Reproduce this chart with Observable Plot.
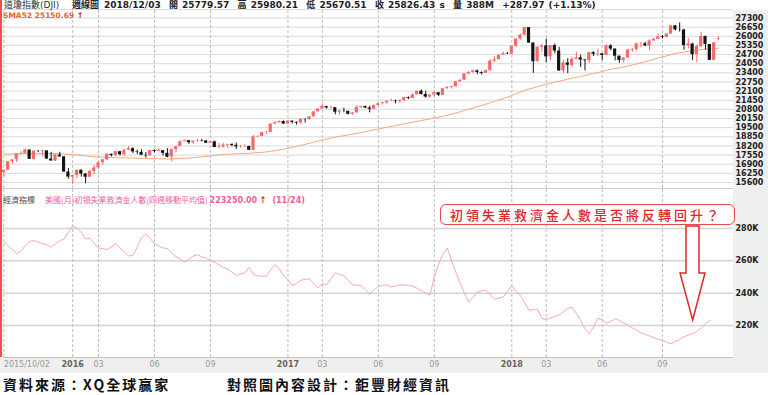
<!DOCTYPE html>
<html><head><meta charset="utf-8">
<script src="https://cdn.jsdelivr.net/npm/d3@7"></script>
<script src="https://cdn.jsdelivr.net/npm/@observablehq/plot@0.6"></script>
<style>
body{margin:0;background:#fff;}
#wrap{position:relative;width:768px;height:395px;overflow:hidden;background:#fff;font-family:"DejaVu Sans",sans-serif;}
.abs{position:absolute;white-space:nowrap;}
#wrap svg{position:absolute;left:0;background:transparent;}
</style></head><body><div id="wrap"></div>
<script>
// ===== DATA =====
// weekly bars, index 0 = 2015/10/02 ... index 166 = 2018/12/03
const open = [16312,16472,17084,17216,17646,17664,17910,17245,17824,17798,17848,17265,17128,17553,
17425,16347,15988,16094,16466,16205,15974,16392,16640,17007,17213,17602,17516,17793,17577,17898,18004,17774,17741,17535,17501,17873,17807,17865,17675,17400,17949,18147,18516,18571,18432,18543,18577,18552,18395,18492,18085,18124,18262,18308,18240,18138,18145,18161,17888,18847,18868,19152,19171,19757,19843,19934,
19763,19964,19886,19827,20094,20071,20269,20624,20822,21006,20903,20915,20597,20663,20656,20453,20548,20941,21007,20897,20805,21080,21206,21272,21384,21395,21350,21414,21638,21580,21830,22093,21858,21675,21814,21988,21798,22268,22350,22405,22774,22872,23329,23434,23539,23422,23358,23558,24232,24329,24652,24754,
24719,25296,25803,26072,26617,25521,24190,25219,25310,24538,25336,24946,23533,24103,23933,24360,24463,24311,24263,24831,24715,24753,24635,25317,25090,24581,24271,24456,25019,25058,25451,25463,25313,25669,25790,25965,25917,26155,26743,26458,26447,25340,25444,24688,25271,25989,25413,24286,25779.57];
const high = [16472,17102,17224,17647,17799,17978,17910,17860,17838,17898,17848,17750,17604,17750,
17425,16593,16141,16510,16510,16205,16475,16795,17063,17241,17631,17622,17793,17793,17926,18167,18078,17900,17934,17731,17891,17930,18003,17865,18011,17951,18147,18537,18622,18591,18543,18668,18668,18598,18520,18548,18363,18367,18308,18339,18399,18242,18285,18191,18934,18934,19152,19225,19757,19953,19987,19981,
19999,19974,19891,20126,20125,20298,20639,20840,21169,21006,21000,20915,20756,20887,20684,20593,21070,21007,21033,21012,21112,21225,21305,21392,21535,21457,21479,21681,21681,21929,22093,22179,22084,21871,22016,21988,22275,22419,22405,22778,22905,23329,23485,23602,23602,23470,23602,24327,24534,24669,24876,24838,
25299,25804,26153,26617,26617,25521,25250,25432,25800,25336,25450,25208,24304,24403,24518,24858,24660,24358,24866,24902,25086,24770,25402,25402,25090,24600,24460,25052,25134,25527,25555,25565,25746,25854,26168,26057,26200,26743,26769,26951,26500,25849,25500,25380,26277,26000,25413,25538,25980.21];
const low = [16013,16472,16917,17016,17564,17656,17245,17210,17721,17421,17265,17128,17100,17400,
16314,15842,15450,15881,15982,15503,15974,16165,16545,16821,17170,17416,17434,17485,17470,17855,17651,17577,17535,17332,17492,17703,17807,17495,17356,17063,17713,18147,18485,18320,18296,18460,18478,18356,18390,18085,17992,18052,18030,18133,17960,18036,18090,17884,17888,18792,18868,19025,19171,19731,19843,19718,
19700,19749,19677,19732,19831,20025,20269,20623,20812,20821,20791,20412,20413,20554,20401,20379,20548,20855,20848,20553,20805,21017,21110,21154,21345,21197,21245,21374,21507,21580,21830,21819,21600,21600,21703,21709,21798,22253,22247,22405,22728,22862,23243,23348,23271,23242,23358,23510,24140,24329,24652,24719,
24700,25170,25720,26012,25490,23360,24190,24876,24117,24257,24759,23510,23344,23344,23791,24330,23778,23531,24062,24560,24558,24262,24635,24950,24250,24084,24077,24456,24858,24936,25183,25267,24965,25640,25790,25804,25880,26155,26378,26300,25000,25100,24268,24122,25200,25008,24268,24286,25670.51];
const close = [16472,17084,17216,17646,17664,17910,17245,17824,17798,17848,17265,17128,17553,17425,
16347,15988,16094,16466,16205,15974,16392,16640,17007,17213,17602,17516,17793,17577,17898,18004,17774,17741,17535,17501,17873,17807,17865,17675,17400,17949,18147,18516,18571,18432,18543,18577,18552,18395,18492,18085,18124,18262,18308,18240,18138,18145,18161,17888,18847,18868,19152,19171,19757,19843,19934,19763,
19964,19886,19827,20094,20071,20269,20624,20822,21006,20903,20915,20597,20663,20656,20453,20548,20941,21007,20897,20805,21080,21206,21272,21384,21395,21350,21414,21638,21580,21830,22093,21858,21675,21814,21988,21798,22268,22350,22405,22774,22872,23329,23434,23539,23422,23358,23558,24232,24329,24652,24754,24719,
25296,25803,26072,26617,25521,24190,25219,25310,24538,25336,24946,23533,24103,23933,24360,24463,24311,24263,24831,24715,24753,24635,25317,25090,24581,24271,24456,25019,25058,25451,25463,25313,25669,25790,25965,25917,26155,26743,26458,26447,25340,25444,24688,25271,25989,25413,24286,25538,25826.43];
const sma52 = [17620,17625,17630,17640,17650,17655,17655,17660,17660,17665,17660,17660,17665,17660,
17630,17600,17575,17560,17525,17490,17460,17430,17415,17400,17385,17370,17360,17355,17350,17345,17340,17330,17320,17305,17295,17290,17285,17280,17270,17280,17290,17305,17320,17335,17365,17395,17425,17455,17490,17525,17560,17590,17610,17625,17640,17655,17670,17680,17700,17720,17745,17775,17820,17870,17920,17960,
18030,18100,18170,18240,18310,18390,18470,18545,18620,18690,18760,18820,18880,18935,18990,19040,19100,19160,19220,19280,19340,19400,19465,19530,19590,19650,19710,19770,19830,19890,19950,20010,20065,20120,20180,20240,20310,20380,20450,20540,20630,20720,20810,20900,20990,21080,21170,21270,21370,21470,21570,21670,
21790,21910,22030,22150,22250,22330,22420,22510,22590,22670,22750,22800,22870,22940,23010,23080,23140,23210,23280,23350,23420,23500,23580,23650,23710,23760,23820,23890,23960,24030,24110,24190,24270,24360,24450,24530,24610,24700,24780,24840,24880,24930,24960,25000,25050,25080,25100,25130,25150.69];
// US initial jobless claims, 4-week moving average (index 0 = 2015/10/03 ... 164 = 2018/11/24)
const claims = [271500,269500,267000,264500,266000,269500,272000,272500,271500,270500,270000,268500,270500,272500,
273500,277500,281500,280000,277500,273500,274000,271000,268000,267500,267000,268500,270500,268000,265500,263000,263500,268500,274500,276500,274000,270500,269000,268000,267500,265000,262500,261000,259200,261000,263000,263800,262500,261700,260500,259000,257500,256000,255000,253000,251000,252000,252600,256000,251500,250600,250500,250600,254500,257600,255000,251000,
248000,244800,246000,248000,248500,249000,246000,243100,245800,245200,249000,252600,251500,251000,248000,245200,245000,244600,242000,239500,242000,244000,244800,245200,243800,244500,245200,245000,244800,244400,243000,241500,240000,239000,250000,258000,264000,268000,260000,253000,246000,240000,234500,237500,240500,241500,241700,239000,236200,237000,237600,241000,
244800,241000,238600,234000,229400,229800,229800,224500,223800,224600,225500,226500,228500,230500,231400,227500,223200,218000,215000,219000,224500,223500,221500,222500,224200,223000,221500,220200,218500,217000,215500,214500,213500,212500,211500,210900,209500,208800,210000,211500,213000,214000,215000,216500,218500,221000,223250];
const priceTicks = [15600,16250,16900,17550,18200,18850,19500,20150,20800,21450,22100,22750,23400,24050,24700,25350,26000,26650,27300];
const claimTicks = [220000,240000,260000,280000];
const tickIdx = [0,16,22,35,48,66,74,87,100,118,126,139,153];
const tickLabels = ["2015/10/02","2016","03","06","09","2017","03","06","09","2018","03","06","09"];

// ===== LAYOUT =====
const wrap = document.getElementById("wrap");
function add(html){ wrap.insertAdjacentHTML("beforeend", html); }
add('<div class="abs" style="left:733px;top:10px;width:35px;height:363px;background:#efefef"></div>');
add('<div class="abs" style="left:0;top:357px;width:768px;height:16px;background:#efefef"></div>');
add('<div class="abs" style="left:0;top:9px;width:733px;height:1px;background:#ddd"></div>');
add('<div class="abs" style="left:0;top:188px;width:733px;height:1px;background:#cfcfcf"></div>');

const UP = "#f46a6a", DN = "#141414";
const xDom = [-0.07, 169.5];
const idx = d3.range(close.length);
const ups = idx.filter(i => close[i] >= open[i]);
const dns = idx.filter(i => close[i] < open[i]);

const pricePlot = Plot.plot({
  width: 768, height: 178, marginLeft: 3, marginRight: 35, marginTop: 0, marginBottom: 0,
  style: {background: "transparent", fontSize: "8px", fontWeight: "bold", color: "#222", fontFamily: "DejaVu Sans"},
  x: {domain: xDom, axis: null},
  y: {domain: [15173, 27833], axis: "right", ticks: priceTicks, tickFormat: d => String(d), tickSize: 0, tickPadding: 2, label: null},
  marks: [
    Plot.ruleY(priceTicks, {stroke: "#dadada"}),
    Plot.ruleX(tickIdx, {stroke: "#bdbdbd", strokeDasharray: "3,2"}),
    Plot.line(sma52, {x: (d, i) => i, y: d => d, stroke: "#f5a57f", strokeWidth: 1}),
    Plot.ruleX(ups, {x: i => i, y1: i => low[i], y2: i => high[i], stroke: UP}),
    Plot.rect(ups, {x1: i => i - 0.37, x2: i => i + 0.37, y1: i => open[i], y2: i => close[i], fill: UP}),
    Plot.ruleX(dns, {x: i => i, y1: i => low[i], y2: i => high[i], stroke: DN}),
    Plot.rect(dns, {x1: i => i - 0.37, x2: i => i + 0.37, y1: i => open[i], y2: i => close[i], fill: DN})
  ]
});
pricePlot.style.top = "10px";
wrap.appendChild(pricePlot);

const claimPlot = Plot.plot({
  width: 768, height: 184, marginLeft: 3, marginRight: 35, marginTop: 0, marginBottom: 16,
  style: {background: "transparent", fontSize: "8px", fontWeight: "bold", color: "#222", fontFamily: "DejaVu Sans"},
  x: {domain: xDom, axis: null},
  y: {domain: [200207, 304123], axis: "right", ticks: claimTicks, tickFormat: d => d / 1000 + "K", tickSize: 0, tickPadding: 2, label: null},
  marks: [
    Plot.ruleY(claimTicks, {stroke: "#d4d4d4", strokeWidth: 1.5}),
    Plot.ruleX(tickIdx, {stroke: "#bdbdbd", strokeDasharray: "3,2"}),
    Plot.ruleY([200207], {stroke: "#f2a6e6", strokeWidth: 1.2}),
    Plot.line(claims, {x: (d, i) => i, y: d => d, stroke: "#f5a6bf", strokeWidth: 1}),
    Plot.text(tickLabels.slice(0, 1), {x: (d, i) => tickIdx[i], text: d => d, frameAnchor: "bottom", dy: 9, textAnchor: "start", fill: "#9a9a9a", fontSize: 8, fontWeight: "normal"}),
    Plot.text(tickLabels.map((d, i) => i).filter(i => i > 0 && tickLabels[i].length === 4), {x: i => tickIdx[i], text: i => tickLabels[i], frameAnchor: "bottom", dy: 9, fill: "#666", fontSize: 8, fontWeight: "bold"}),
    Plot.text(tickLabels.map((d, i) => i).filter(i => i > 0 && tickLabels[i].length !== 4), {x: i => tickIdx[i], text: i => tickLabels[i], frameAnchor: "bottom", dy: 9, fill: "#9a9a9a", fontSize: 8, fontWeight: "normal"})
  ]
});
claimPlot.style.top = "189px";
wrap.appendChild(claimPlot);

add('<div class="abs" style="left:0;top:0;width:2px;height:357px;background:#f0504a"></div>');

const H = "font:bold 9px 'DejaVu Sans','Noto Sans CJK TC';color:#222;top:0;line-height:10px;";
add(`<div class="abs" style="${H}left:4px;font-weight:normal;color:#333">道瓊指數(DJI)</div>`);
add(`<div class="abs" style="${H}left:72px;">週線圖</div>`);
add(`<div class="abs" style="${H}left:104px;word-spacing:1px">2018/12/03&nbsp; 開 25779.57&nbsp; 高 25980.21&nbsp; 低 25670.51&nbsp; 收 25826.43 s&nbsp; 量 388M&nbsp; +287.97 (+1.13%)</div>`);
add(`<div class="abs" style="left:3px;top:11px;line-height:10px;font:bold 7.5px 'DejaVu Sans';color:#f0602c">SMA52 25150.69 <span style="color:#e81010;font-size:8px">↑</span></div>`);

add(`<div class="abs" style="left:3px;top:194px;line-height:10px;font:8px 'Noto Sans CJK TC','DejaVu Sans';color:#444">經濟指標</div>`);
add(`<div class="abs" style="left:45px;top:194px;line-height:10px;font:8px 'Noto Sans CJK TC','DejaVu Sans';color:#ee5e9c">美國(月)初領失業救濟金人數(四週移動平均值) <b style="font-family:'DejaVu Sans'">223250.00</b> <b style="color:#e81010">↑</b> &nbsp;&nbsp;<b style="font-family:'DejaVu Sans'">(11/24)</b></div>`);

add(`<svg class="abs" style="left:0;top:0" width="768" height="395"><polygon points="686,226 686,273 680,273 692.7,320 705,273 699,273 699,226" fill="#fff" stroke="#e3262b" stroke-width="1.5"/></svg>`);
add(`<div class="abs" style="left:440px;top:204px;width:284px;height:19px;border:1.5px solid #e8474c;border-radius:6px;background:#fff;color:#e0262a;font:500 13px 'Noto Sans CJK TC';letter-spacing:3px;line-height:19px;padding-left:9px;box-sizing:content-box">初領失業救濟金人數是否將反轉回升？</div>`);

const C = "font:bold 14px 'Noto Sans CJK TC';color:#111;letter-spacing:2px;top:375px;line-height:18px;";
add(`<div class="abs" style="${C}left:3px">資料來源：XQ全球贏家</div>`);
add(`<div class="abs" style="${C}left:227px">對照圖內容設計：鉅豐財經資訊</div>`);
</script></body></html>
